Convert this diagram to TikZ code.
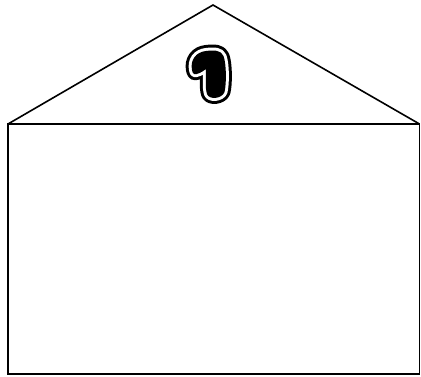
\documentclass[tikz,border=0pt]{standalone}
\begin{document}
\begin{tikzpicture}[x=1pt,y=-1pt,
  edge/.style={draw=black,line width=1.6pt,line join=miter}]
\useasboundingbox (0,0) rectangle (421,376);
\coordinate (apex) at (213,5);
\coordinate (bl) at (8,124);
\coordinate (br) at (419.5,124);
\coordinate (fl) at (8,374);
\coordinate (fr) at (419.5,374);
\draw[edge] (bl) -- (apex) -- (br);
\draw[edge] (bl) -- (br) -- (fr) -- (fl) -- cycle;
% bubble digit one
\def\onepath{(192,70) .. controls (190,60) and (196,52) .. (206,51)
  .. controls (214,50) and (221,50) .. (223.5,56)
  .. controls (226.5,64) and (226.5,84) .. (224.5,92)
  .. controls (222,99) and (209,100) .. (207,94)
  .. controls (205,88) and (206,76) .. (206,69)
  .. controls (202,72) and (197,75) .. (194,74)
  .. controls (193,73) and (192,72) .. (192,70) -- cycle}
\draw[black,line width=12pt,line join=round] \onepath;
\draw[white,line width=6pt,line join=round] \onepath;
\fill[black] \onepath;
\end{tikzpicture}
\end{document}
